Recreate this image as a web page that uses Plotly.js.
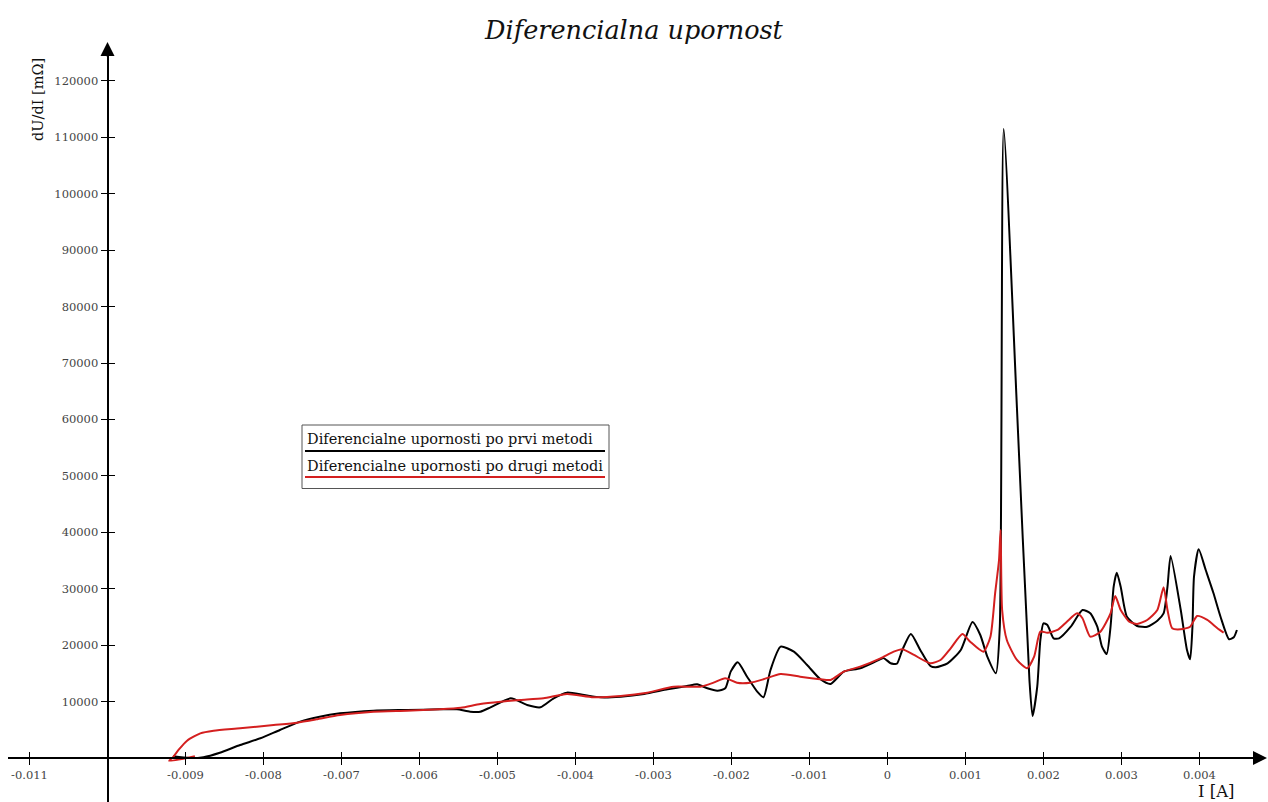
<!DOCTYPE html>
<html>
<head>
<meta charset="utf-8">
<script src="https://cdn.plot.ly/plotly-3.0.1.min.js"></script>
<style>html,body{margin:0;padding:0;background:#fff;}#chart{width:1268px;height:802px;}</style>
</head>
<body>
<div id="chart"></div>
<script>
// ---------- data ----------
const chartTitle = "Diferencialna upornost";
const xAxisTitle = "I [A]";
const yAxisTitle = "dU/dI [mΩ]";
const seriesNames = ["Diferencialne upornosti po prvi metodi", "Diferencialne upornosti po drugi metodi"];

const xTickVals = [-0.011, -0.009, -0.008, -0.007, -0.006, -0.005, -0.004, -0.003, -0.002, -0.001, 0, 0.001, 0.002, 0.003, 0.004];
const xTickText = ["-0.011", "-0.009", "-0.008", "-0.007", "-0.006", "-0.005", "-0.004", "-0.003", "-0.002", "-0.001", "0", "0.001", "0.002", "0.003", "0.004"];
const yTickVals = [10000, 20000, 30000, 40000, 50000, 60000, 70000, 80000, 90000, 100000, 110000, 120000];
const yTickText = ["10000", "20000", "30000", "40000", "50000", "60000", "70000", "80000", "90000", "100000", "110000", "120000"];

const xCross = -0.010; // where the vertical axis crosses
const xRange = [-0.011281, 0.0047974];
const yRange = [-7800, 126370];

const firstI = [-0.00916, -0.00895, -0.00877, -0.00856, -0.00830, -0.00804, -0.00779, -0.00753, -0.00728, -0.00702, -0.00659, -0.00616, -0.00574, -0.00552, -0.00535, -0.00522, -0.00509, -0.00483, -0.00462, -0.00445, -0.00428, -0.00411, -0.00389, -0.00368, -0.00342, -0.00312, -0.00282, -0.00257, -0.00244, -0.00231, -0.00218, -0.00208, -0.00201, -0.00192, -0.00180, -0.00167, -0.00159, -0.00150, -0.00137, -0.00120, -0.00103, -0.00086, -0.00073, -0.00056, -0.00035, -0.00013, -0.00005, 0.00004, 0.00012, 0.00019, 0.00030, 0.00042, 0.00055, 0.00062, 0.00077, 0.00094, 0.00109, 0.00119, 0.00128, 0.00139, 0.00144, 0.00149, 0.00166, 0.00182, 0.00186, 0.00192, 0.00196, 0.00200, 0.00205, 0.00213, 0.00220, 0.00235, 0.00250, 0.00260, 0.00269, 0.00275, 0.00281, 0.00286, 0.00290, 0.00294, 0.00299, 0.00307, 0.00320, 0.00333, 0.00346, 0.00354, 0.00359, 0.00363, 0.00376, 0.00384, 0.00388, 0.00391, 0.00393, 0.00399, 0.00408, 0.00418, 0.00427, 0.00438, 0.00444, 0.00448];
const firstR = [300, 0, 150, 940, 2300, 3490, 4960, 6440, 7320, 7910, 8390, 8510, 8630, 8630, 8210, 8210, 8980, 10580, 9390, 8980, 10580, 11580, 11170, 10760, 10870, 11340, 12170, 12760, 13060, 12350, 11930, 12350, 15300, 16960, 14410, 11750, 10760, 15600, 19730, 18840, 16480, 13950, 13120, 15300, 15900, 17250, 17700, 16800, 16700, 19140, 21980, 19140, 16300, 16070, 16780, 19140, 24100, 21800, 17960, 15010, 23270, 111500, 62000, 13825, 7440, 12640, 20910, 23870, 23570, 21210, 21210, 23270, 26230, 25640, 23270, 19730, 18430, 23270, 30360, 32850, 30360, 25040, 23400, 23270, 24340, 25640, 30360, 35800, 26230, 19140, 17490, 23270, 32130, 37000, 33320, 29190, 25040, 21040, 21390, 22690];

const secondI = [-0.00888, -0.00921, -0.00916, -0.00909, -0.00898, -0.00881, -0.00864, -0.00830, -0.00787, -0.00757, -0.00732, -0.00702, -0.00659, -0.00616, -0.00574, -0.00547, -0.00522, -0.00496, -0.00471, -0.00441, -0.00411, -0.00377, -0.00342, -0.00308, -0.00274, -0.00240, -0.00223, -0.00208, -0.00193, -0.00176, -0.00159, -0.00137, -0.00112, -0.00086, -0.00073, -0.00056, -0.00035, -0.00009, 0.00008, 0.00019, 0.00034, 0.00055, 0.00068, 0.00081, 0.00096, 0.00106, 0.00123, 0.00132, 0.00138, 0.00143, 0.00145, 0.00147, 0.00153, 0.00166, 0.00179, 0.00188, 0.00196, 0.00205, 0.00218, 0.00230, 0.00243, 0.00250, 0.00260, 0.00273, 0.00286, 0.00292, 0.00299, 0.00310, 0.00320, 0.00333, 0.00346, 0.00354, 0.00359, 0.00365, 0.00376, 0.00388, 0.00397, 0.00410, 0.00423, 0.00431];
const secondR = [300, -500, 150, 1420, 3070, 4370, 4840, 5260, 5850, 6260, 6850, 7620, 8210, 8390, 8630, 8900, 9570, 9980, 10280, 10580, 11340, 10760, 10990, 11580, 12640, 12640, 13350, 14130, 13350, 13350, 13950, 14890, 14410, 13950, 13830, 15300, 16190, 17670, 18840, 19270, 18260, 16780, 17370, 19440, 21980, 20610, 18840, 21500, 29190, 35090, 40410, 26230, 20910, 17370, 15900, 17960, 22390, 22210, 22690, 24160, 25640, 24760, 21500, 22390, 25640, 28710, 26230, 24160, 23750, 24460, 26230, 30260, 26230, 22990, 22810, 23270, 25170, 24460, 22990, 22210];

// ---------- layout helpers ----------
const W = 1268, H = 802;
const px = x => x / W;
const py = y => 1 - y / H;
const xDomain = [0.006, 0.995];
const yDomain = [0, 0.9439];
const serif = "DejaVu Serif, Liberation Serif, serif";
const yAxisPos = xDomain[0] + (xCross - xRange[0]) / (xRange[1] - xRange[0]) * (xDomain[1] - xDomain[0]);
const xAxisPos = yDomain[0] + (0 - yRange[0]) / (yRange[1] - yRange[0]) * (yDomain[1] - yDomain[0]);
const tickFont = {family: serif, size: 11.5, color: "#444"};

const traces = [
  {x: firstI, y: firstR, name: seriesNames[0], type: "scatter", mode: "lines",
   line: {color: "#000000", width: 2, shape: "spline", smoothing: 0.6}, showlegend: false},
  {x: secondI, y: secondR, name: seriesNames[1], type: "scatter", mode: "lines",
   line: {color: "#d41f1f", width: 2, shape: "spline", smoothing: 0.6}, showlegend: false},
  {x: [], y: [], xaxis: "x2", yaxis: "y2", type: "scatter", mode: "lines", showlegend: false, hoverinfo: "skip"}
];

const baseX = {domain: xDomain, range: xRange, anchor: "free", position: xAxisPos,
  showgrid: false, zeroline: false, tickmode: "array", tickvals: xTickVals, ticklen: 6, tickwidth: 1, tickcolor: "#000"};
const baseY = {domain: yDomain, range: yRange, anchor: "free", position: yAxisPos,
  showgrid: false, zeroline: false, tickmode: "array", tickvals: yTickVals, ticklen: 6, tickwidth: 1, tickcolor: "#000"};

const layout = {
  width: W, height: H,
  margin: {l: 0, r: 0, t: 0, b: 0, pad: 0},
  paper_bgcolor: "#ffffff", plot_bgcolor: "#ffffff",
  showlegend: false,
  title: {text: "<i>" + chartTitle + "</i>", font: {family: serif, size: 25.5, color: "#111"},
          x: 0.5, xanchor: "center", y: py(30), yanchor: "middle", yref: "container"},
  xaxis: Object.assign({}, baseX, {showline: true, linecolor: "#000", linewidth: 2, ticks: "outside",
    ticktext: xTickText, tickfont: tickFont}),
  yaxis: Object.assign({}, baseY, {showline: true, linecolor: "#000", linewidth: 2, ticks: "outside",
    ticktext: yTickText, tickfont: tickFont}),
  xaxis2: Object.assign({}, baseX, {overlaying: "x", showline: false, ticks: "inside", showticklabels: false}),
  yaxis2: Object.assign({}, baseY, {overlaying: "y", showline: false, ticks: "inside", showticklabels: false}),
  annotations: [
    {text: yAxisTitle, xref: "paper", yref: "paper", x: px(38), y: py(100), textangle: -90,
     showarrow: false, font: {family: serif, size: 14.5, color: "#111"}, xanchor: "center", yanchor: "middle"},
    {text: xAxisTitle, xref: "paper", yref: "paper", x: px(1216), y: py(791),
     showarrow: false, font: {family: serif, size: 16.5, color: "#111"}, xanchor: "center", yanchor: "middle"},
    {text: seriesNames[0], xref: "paper", yref: "paper", x: px(305), y: py(439),
     showarrow: false, font: {family: serif, size: 14.5, color: "#111"}, xanchor: "left", yanchor: "middle"},
    {text: seriesNames[1], xref: "paper", yref: "paper", x: px(305), y: py(466),
     showarrow: false, font: {family: serif, size: 14.5, color: "#111"}, xanchor: "left", yanchor: "middle"},
    // axis arrowheads
    {text: "", xref: "paper", yref: "paper", x: px(1267), y: xAxisPos, ax: -16, ay: 0,
     showarrow: true, arrowhead: 2, arrowsize: 1.4, arrowwidth: 2, arrowcolor: "#000"},
    {text: "", xref: "paper", yref: "paper", x: yAxisPos, y: py(42), ax: 0, ay: 16,
     showarrow: true, arrowhead: 2, arrowsize: 1.4, arrowwidth: 2, arrowcolor: "#000"}
  ],
  shapes: [
    {type: "rect", xref: "paper", yref: "paper", x0: px(302), x1: px(609), y0: py(425), y1: py(488.5),
     line: {color: "#555", width: 1}, fillcolor: "rgba(255,255,255,0)"},
    {type: "line", xref: "paper", yref: "paper", x0: px(305), x1: px(605), y0: py(451), y1: py(451),
     line: {color: "#000", width: 2}},
    {type: "line", xref: "paper", yref: "paper", x0: px(305), x1: px(605), y0: py(477), y1: py(477),
     line: {color: "#d41f1f", width: 2}}
  ]
};

Plotly.newPlot("chart", traces, layout, {displayModeBar: false, staticPlot: true});
</script>
</body>
</html>
